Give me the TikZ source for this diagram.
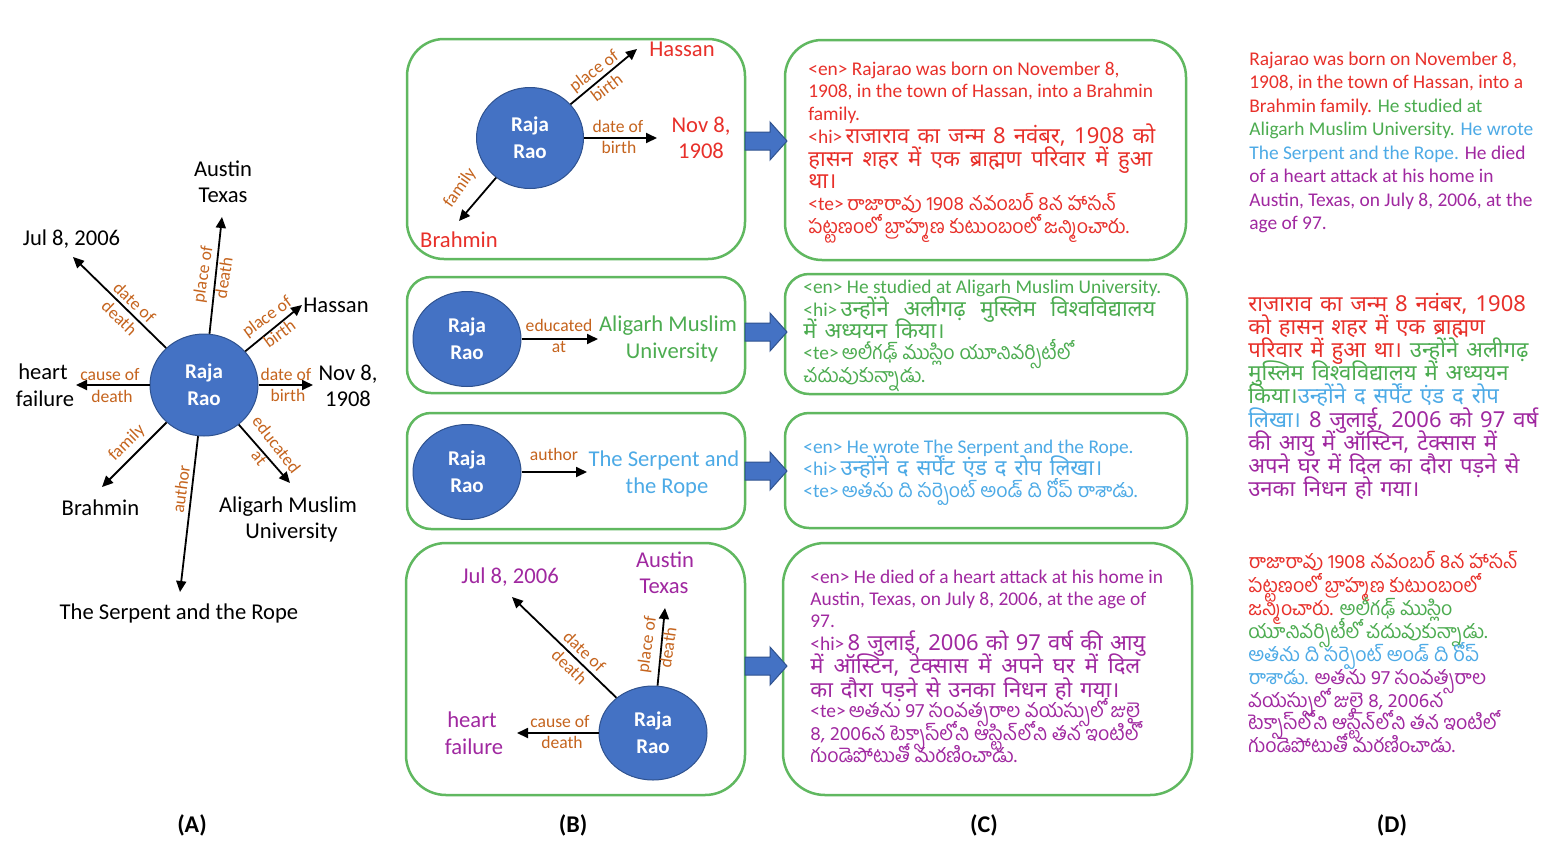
\documentclass[tikz,border=0pt]{standalone}
\usepackage{fontspec}
\setmainfont{Carlito}
\newfontfamily\hin[Script=Devanagari,WordSpace=1.4]{Noto Sans}
\newfontfamily\tel[Script=Telugu]{Hind Guntur}
\usetikzlibrary{shapes.geometric,arrows.meta}
\definecolor{cr}{RGB}{232,48,42}
\definecolor{cg}{RGB}{76,172,80}
\definecolor{cb}{RGB}{77,170,230}
\definecolor{cp}{RGB}{160,40,160}
\definecolor{cbr}{RGB}{197,100,30}
\definecolor{boxg}{RGB}{96,184,96}
\definecolor{hubf}{RGB}{68,114,196}
\definecolor{hubd}{RGB}{47,82,143}
\newcommand\fEnt{\fontsize{11.3}{13}\selectfont}
\newcommand\fRel{\fontsize{8.8}{10.8}\selectfont}
\newcommand\fHub{\fontsize{10.5}{13.5}\selectfont\bfseries}
\newcommand\fTx{\fontsize{9.7}{11.8}\selectfont}
\newcommand\fHin{\hin\fontsize{11}{11.8}\selectfont}
\newcommand\fTel{\tel\fontsize{9.8}{11.8}\selectfont}
\tikzset{
  ent/.style={anchor=base,inner sep=0pt,font=\fEnt},
  rel/.style={inner sep=0pt,font=\fRel,text=cbr,align=center},
  relb/.style={anchor=base,inner sep=0pt,font=\fRel,text=cbr},
  hub/.style={ellipse,fill=hubf,draw=hubd,line width=0.5pt,text=white,font=\fHub,align=center,inner sep=0pt},
  edge/.style={-{Triangle[length=5.5pt,width=5pt]},line width=0.9pt,black},
  panelbox/.style={draw=boxg,line width=1.25pt},
  txt/.style={anchor=base west,inner sep=0pt,font=\fTx},
  blockarr/.style={fill=hubf,draw=hubd,line width=0.5pt},
  plabel/.style={anchor=base,inner sep=0pt,font=\fontsize{12}{14}\selectfont\bfseries}
}
\newcommand\blockarrow[1]{\draw[blockarr] (745,{#1-9}) -- (770,{#1-9}) -- (770,{#1-19}) -- (787,#1) -- (770,{#1+19}) -- (770,{#1+9}) -- (745,{#1+9}) -- cycle;}
\begin{document}
\begin{tikzpicture}[x=0.5pt,y=-0.5pt]
\useasboundingbox[fill=white] (0,0) rectangle (1560,858);

% ---------------- Panel A ----------------
\node[hub,minimum width=54pt,minimum height=51pt] (hA) at (204,385) {Raja\\Rao};
\coordinate (tAus) at (222,217);
\coordinate (tJul) at (73,257);
\coordinate (tHas) at (302,305);
\coordinate (tNov) at (313,385);
\coordinate (tHe) at (76,385);
\coordinate (tBra) at (102,487);
\coordinate (tAli) at (290,483);
\coordinate (tSer) at (180,592);
\foreach \t in {tAus,tJul,tHas,tNov,tHe,tBra,tAli,tSer} \draw[edge] (hA) -- (\t);

\node[ent] (aAus1) at (223,176) {Austin};
\node[ent] (aAus2) at (223,202) {Texas};
\node[ent] (aJul) at (71.5,245) {Jul 8, 2006};
\node[ent] (aHas) at (336,312) {Hassan};
\node[ent] (aNov1) at (348,380) {Nov 8,};
\node[ent] (aNov2) at (348,406) {1908};
\node[ent] (aHe1) at (43,379) {heart};
\node[ent] (aHe2) at (45,406) {failure};
\node[ent] (aBra) at (100.5,515) {Brahmin};
\node[ent] (aAli1) at (288,512) {Aligarh Muslim};
\node[ent] (aAli2) at (291.5,538) {University};
\node[ent] (aSer) at (179,619) {The Serpent and the Rope};

\node[relb] (rAc1) at (110,380) {cause of};
\node[relb] (rAc2) at (112,402) {death};
\node[relb] (rAb1) at (286,380) {date of};
\node[relb] (rAb2) at (288,401) {birth};
\node[rel,rotate=-44] (rAdod) at (127,310) {date of\\death};
\node[rel,rotate=81] (rApod) at (213,276) {place of\\death};
\node[rel,rotate=36] (rApob) at (273,325) {place of\\birth};
\node[rel,rotate=-52] (rAedu) at (268,451) {educated\\at};
\node[rel,rotate=45] (rAfam) at (127,443) {family};
\node[rel,rotate=82] (rAaut) at (181,489) {author};

% ---------------- Boxes ----------------
\draw[panelbox,rounded corners=18.5pt] (407,39) rectangle (745,259);
\draw[panelbox,rounded corners=18.5pt] (785,40) rectangle (1186,260);
\draw[panelbox,rounded corners=12pt] (407,277) rectangle (745,393);
\draw[panelbox,rounded corners=12pt] (785,274) rectangle (1187,394);
\draw[panelbox,rounded corners=12pt] (407,413) rectangle (745,529);
\draw[panelbox,rounded corners=12pt] (785,413) rectangle (1187,528);
\draw[panelbox,rounded corners=20pt] (406,543) rectangle (745,795);
\draw[panelbox,rounded corners=21pt] (783,543) rectangle (1192,795);

\blockarrow{141}
\blockarrow{332}
\blockarrow{471}
\blockarrow{666}

% ---------------- Panel B1 ----------------
\node[hub,minimum width=53.5pt,minimum height=50.5pt] (hB1) at (530,138) {Raja\\Rao};
\coordinate (tB1Has) at (637,49);
\coordinate (tB1Nov) at (657,138);
\coordinate (tB1Bra) at (459,221);
\foreach \t in {tB1Has,tB1Nov,tB1Bra} \draw[edge] (hB1) -- (\t);
\node[ent,text=cr] (b1Has) at (682,56) {Hassan};
\node[ent,text=cr] (b1Nov1) at (701,132) {Nov 8,};
\node[ent,text=cr] (b1Nov2) at (701,158) {1908};
\node[ent,text=cr] (b1Bra) at (459,247) {Brahmin};
\node[relb] (rB1b1) at (618,132) {date of};
\node[relb] (rB1b2) at (619,153) {birth};
\node[rel,rotate=37] (rB1pob) at (600,79) {place of\\birth};
\node[rel,rotate=55] (rB1fam) at (460,188) {family};

% ---------------- Panel B2 ----------------
\node[hub,minimum width=54pt,minimum height=47.5pt] (hB2) at (467,339) {Raja\\Rao};
\coordinate (tB2) at (598,339);
\draw[edge] (hB2) -- (tB2);
\node[relb] (rB2e1) at (559,331) {educated};
\node[relb] (rB2e2) at (559,352) {at};
\node[ent,text=cg] (b2Ali1) at (668,331) {Aligarh Muslim};
\node[ent,text=cg] (b2Ali2) at (672,358) {University};

% ---------------- Panel B3 ----------------
\node[hub,minimum width=54pt,minimum height=47.5pt] (hB3) at (467,472) {Raja\\Rao};
\coordinate (tB3) at (587,472);
\draw[edge] (hB3) -- (tB3);
\node[relb] (rB3a) at (554,460) {author};
\node[ent,text=cb] (b3Ser1) at (664,466) {The Serpent and};
\node[ent,text=cb] (b3Ser2) at (667,493) {the Rope};

% ---------------- Panel B4 ----------------
\node[hub,minimum width=54pt,minimum height=47pt] (hB4) at (653,733) {Raja\\Rao};
\coordinate (tB4Jul) at (512,597);
\coordinate (tB4Aus) at (665,608);
\coordinate (tB4He) at (517,733);
\foreach \t in {tB4Jul,tB4Aus,tB4He} \draw[edge] (hB4) -- (\t);
\node[ent,text=cp] (b4Jul) at (510,583) {Jul 8, 2006};
\node[ent,text=cp] (b4Aus1) at (665,567) {Austin};
\node[ent,text=cp] (b4Aus2) at (664,593) {Texas};
\node[ent,text=cp] (b4He1) at (472,727) {heart};
\node[ent,text=cp] (b4He2) at (474,754) {failure};
\node[relb] (rB4c1) at (560,727) {cause of};
\node[relb] (rB4c2) at (562,748) {death};
\node[rel,rotate=-44] (rB4dod) at (577,659) {date of\\death};
\node[rel,rotate=82] (rB4pod) at (657,646) {place of\\death};

% ---------------- Panel C ----------------
\node[txt,text=cr] (c1a) at (808,75) {<en> Rajarao was born on November 8,};
\node[txt,text=cr] (c1b) at (808,97) {1908, in the town of Hassan, into a Brahmin};
\node[txt,text=cr] (c1c) at (808,120) {family.};
\node[txt,text=cr] (c1d) at (808,143) {\makebox[173.5pt][s]{<hi>\,{\fHin राजाराव का जन्म 8 नवंबर, 1908 को}}};
\node[txt,text=cr] (c1e) at (808,166) {\makebox[172pt][s]{\fHin हासन शहर में एक ब्राह्मण परिवार में हुआ}};
\node[txt,text=cr] (c1f) at (808,188) {\fHin था।};
\node[txt,text=cr] (c1g) at (808,210) {<te>\,{\fTel రాజారావు 1908 నవంబర్ 8న హాసన్}};
\node[txt,text=cr] (c1h) at (808,233) {\fTel పట్టణంలో బ్రాహ్మణ కుటుంబంలో జన్మించారు.};

\node[txt,text=cg] (c2a) at (803,293) {<en> He studied at Aligarh Muslim University.};
\node[txt,text=cg] (c2b) at (803,316) {\makebox[176pt][s]{<hi>\,{\fHin उन्होंने अलीगढ़ मुस्लिम विश्वविद्यालय}}};
\node[txt,text=cg] (c2c) at (803,338) {\fHin में अध्ययन किया।};
\node[txt,text=cg] (c2d) at (803,359) {<te>\,{\fTel అలీగఢ్ ముస్లిం యూనివర్సిటీలో}};
\node[txt,text=cg] (c2e) at (803,382) {\fTel చదువుకున్నాడు.};

\node[txt,text=cb] (c3a) at (803,453) {<en> He wrote The Serpent and the Rope.};
\node[txt,text=cb] (c3b) at (803,475) {<hi>\,{\fHin उन्होंने द सर्पेंट एंड द रोप लिखा।}};
\node[txt,text=cb] (c3c) at (803,497) {<te>\,{\fTel అతను ది సర్పెంట్ అండ్ ది రోప్ రాశాడు.}};

\node[txt,text=cp] (c4a) at (810,583) {<en> He died of a heart attack at his home in};
\node[txt,text=cp] (c4b) at (810,605) {Austin, Texas, on July 8, 2006, at the age of};
\node[txt,text=cp] (c4c) at (810,627) {97.};
\node[txt,text=cp] (c4d) at (810,650) {\makebox[167.5pt][s]{<hi>\,{\fHin 8 जुलाई, 2006 को 97 वर्ष की आयु}}};
\node[txt,text=cp] (c4e) at (810,673) {\makebox[165pt][s]{\fHin में ऑस्टिन, टेक्सास में अपने घर में दिल}};
\node[txt,text=cp] (c4f) at (810,697) {\fHin का दौरा पड़ने से उनका निधन हो गया।};
\node[txt,text=cp] (c4g) at (810,717) {<te>\,{\fTel అతను 97 సంవత్సరాల వయస్సులో జులై}};
\node[txt,text=cp] (c4h) at (810,740) {\fTel 8, 2006న టెక్సాస్‌లోని ఆస్టిన్‌లోని తన ఇంటిలో};
\node[txt,text=cp] (c4i) at (810,762) {\fTel గుండెపోటుతో మరణించాడు.};

% ---------------- Panel D ----------------
\node[txt,text=cr] (d1) at (1249,65) {Rajarao was born on November 8,};
\node[txt,text=cr] (d2) at (1249,88.5) {1908, in the town of Hassan, into a};
\node[txt] (d3) at (1249,112) {\color{cr}Brahmin family. \color{cg}He studied at};
\node[txt] (d4) at (1249,135.5) {\color{cg}Aligarh Muslim University. \color{cb}He wrote};
\node[txt] (d5) at (1249,159) {\color{cb}The Serpent and the Rope. \color{cp}He died};
\node[txt,text=cp] (d6) at (1249,182.5) {of a heart attack at his home in};
\node[txt,text=cp] (d7) at (1249,206) {Austin, Texas, on July 8, 2006, at the};
\node[txt,text=cp] (d8) at (1249,229.5) {age of 97.};

\node[txt,text=cr,font=\fHin] (dh1) at (1248,311) {राजाराव का जन्म 8 नवंबर, 1908};
\node[txt,text=cr,font=\fHin] (dh2) at (1248,334) {को हासन शहर में एक ब्राह्मण};
\node[txt,font=\fHin] (dh3) at (1248,357) {\color{cr}परिवार में हुआ था। \color{cg}उन्होंने अलीगढ़};
\node[txt,text=cg,font=\fHin] (dh4) at (1248,380) {मुस्लिम विश्वविद्यालय में अध्ययन};
\node[txt,font=\fHin] (dh5) at (1248,403) {\color{cg}किया।\color{cb}उन्होंने द सर्पेंट एंड द रोप};
\node[txt,font=\fHin] (dh6) at (1248,427) {\color{cb}लिखा। \color{cp}8 जुलाई, 2006 को 97 वर्ष};
\node[txt,text=cp,font=\fHin] (dh7) at (1248,450) {की आयु में ऑस्टिन, टेक्सास में};
\node[txt,text=cp,font=\fHin] (dh8) at (1248,473) {अपने घर में दिल का दौरा पड़ने से};
\node[txt,text=cp,font=\fHin] (dh9) at (1248,496) {उनका निधन हो गया।};

\node[txt,text=cr,font=\fTel] (dt1) at (1248,568) {రాజారావు 1908 నవంబర్ 8న హాసన్};
\node[txt,text=cr,font=\fTel] (dt2) at (1248,592) {పట్టణంలో బ్రాహ్మణ కుటుంబంలో};
\node[txt,font=\fTel] (dt3) at (1248,615) {\color{cr}జన్మించారు. \color{cg}అలీగఢ్ ముస్లిం};
\node[txt,text=cg,font=\fTel] (dt4) at (1248,638) {యూనివర్సిటీలో చదువుకున్నాడు.};
\node[txt,text=cb,font=\fTel] (dt5) at (1248,661) {అతను ది సర్పెంట్ అండ్ ది రోప్};
\node[txt,font=\fTel] (dt6) at (1248,684) {\color{cb}రాశాడు. \color{cp}అతను 97 సంవత్సరాల};
\node[txt,text=cp,font=\fTel] (dt7) at (1248,707) {వయస్సులో జులై 8, 2006న};
\node[txt,text=cp,font=\fTel] (dt8) at (1248,729) {టెక్సాస్‌లోని ఆస్టిన్‌లోని తన ఇంటిలో};
\node[txt,text=cp,font=\fTel] (dt9) at (1248,752) {గుండెపోటుతో మరణించాడు.};

% ---------------- Panel labels ----------------
\node[plabel] (lA) at (192,832) {(A)};
\node[plabel] (lB) at (573,832) {(B)};
\node[plabel] (lC) at (984,832) {(C)};
\node[plabel] (lD) at (1392,832) {(D)};
\end{tikzpicture}
\end{document}
